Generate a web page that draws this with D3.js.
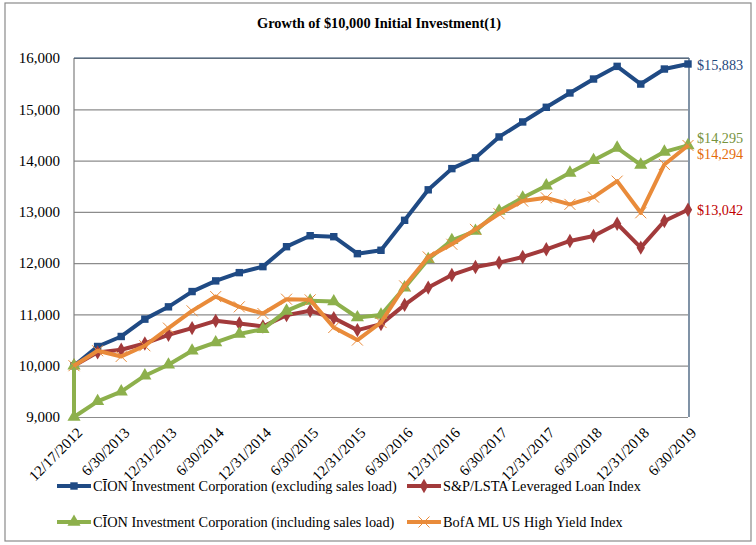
<!DOCTYPE html>
<html>
<head>
<meta charset="utf-8">
<script src="https://cdn.jsdelivr.net/npm/d3@7"></script>
<style>
  body { margin: 0; background: #fff; }
  text { font-family: "Liberation Serif", "Times New Roman", serif; }
</style>
</head>
<body>
<div id="chart"></div>
<script>
var dates = ["12/17/2012", "3/31/2013", "6/30/2013", "9/30/2013", "12/31/2013",
  "3/31/2014", "6/30/2014", "9/30/2014", "12/31/2014", "3/31/2015", "6/30/2015",
  "9/30/2015", "12/31/2015", "3/31/2016", "6/30/2016", "9/30/2016", "12/31/2016",
  "3/31/2017", "6/30/2017", "9/30/2017", "12/31/2017", "3/31/2018", "6/30/2018",
  "9/30/2018", "12/31/2018", "3/31/2019", "6/30/2019"];

var cionExcl = [10000, 10375, 10570, 10908, 11148, 11446, 11654, 11815, 11932, 12321,
  12535, 12516, 12185, 12251, 12835, 13430, 13843, 14053, 14461, 14753, 15039, 15318,
  15590, 15837, 15492, 15785, 15883];
var lstaLoan = [10000, 10260, 10311, 10434, 10603, 10733, 10875, 10823, 10765, 10986,
  11070, 10928, 10694, 10811, 11187, 11523, 11770, 11926, 12010, 12121, 12270, 12432,
  12529, 12768, 12302, 12821, 13042];
// initial $10,000 before the sales load, then the quarterly values
var cionInclStart = 10000;
var cionIncl = [9000, 9306, 9494, 9805, 10019, 10292, 10453, 10617, 10714, 11070,
  11265, 11251, 10940, 10990, 11523, 12076, 12446, 12626, 13016, 13274, 13510, 13761,
  14005, 14247, 13915, 14170, 14295];
var bofaHY = [10000, 10292, 10181, 10389, 10733, 11070, 11348, 11148, 11018, 11297,
  11284, 10745, 10500, 10843, 11556, 12121, 12368, 12658, 12963, 13210, 13274, 13146,
  13288, 13599, 12982, 13924, 14294];

var yTicks = [9000, 10000, 11000, 12000, 13000, 14000, 15000, 16000];
var seriesNames = ["CĪON Investment Corporation (excluding sales load)",
  "S&P/LSTA Leveraged Loan Index",
  "CĪON Investment Corporation (including sales load)",
  "BofA ML US High Yield Index"];
var endLabels = ["$15,883", "$13,042", "$14,295", "$14,294"];

var W = 756, H = 545;
var plot = { left: 74, right: 688, top: 58, bottom: 417 };

var svg = d3.select("#chart").append("svg")
  .attr("width", W)
  .attr("height", H);

svg.append("rect")
  .attr("x", 5).attr("y", 3)
  .attr("width", 746).attr("height", 538)
  .attr("fill", "#fff")
  .attr("stroke", "#8a8a8a")
  .attr("stroke-width", 1.2);

svg.append("text")
  .attr("x", 379)
  .attr("y", 28)
  .attr("text-anchor", "middle")
  .style("font-size", "14.4px")
  .style("font-weight", "bold")
  .text("Growth of $10,000 Initial Investment(1)");

var x = d3.scalePoint()
  .domain(dates)
  .range([plot.left, plot.right]);

var y = d3.scaleLinear()
  .domain([9000, 16000])
  .range([plot.bottom, plot.top]);

// gridlines + y labels
svg.append("g")
  .attr("class", "y-axis")
  .attr("transform", "translate(" + plot.left + ",0)")
  .call(d3.axisLeft(y)
    .tickValues(yTicks)
    .tickFormat(d3.format(","))
    .tickSize(-(plot.right - plot.left))
    .tickPadding(14))
  .call(function(g) {
    g.select(".domain").remove();
    g.selectAll(".tick line").attr("stroke", "#8c8c8c").attr("stroke-width", 1.2);
    g.selectAll(".tick text")
      .style("font-size", "15px")
      .style("fill", "#000");
  });

// x labels, every other quarter
svg.append("g")
  .attr("class", "x-axis")
  .attr("transform", "translate(0," + plot.bottom + ")")
  .call(d3.axisBottom(x)
    .tickValues(dates.filter(function(d, i) { return i % 2 === 0; }))
    .tickSize(0))
  .call(function(g) {
    g.select(".domain").remove();
    g.selectAll(".tick text")
      .style("font-size", "15px")
      .style("fill", "#000")
      .style("text-anchor", "end")
      .attr("x", 0)
      .attr("y", 0)
      .attr("dy", "0.35em")
      .attr("transform", "translate(5,13) rotate(-45)");
  });

// plot frame
svg.append("line")
  .attr("x1", plot.left).attr("x2", plot.left)
  .attr("y1", plot.top).attr("y2", plot.bottom)
  .attr("stroke", "#7f7f7f").attr("stroke-width", 1.2);
svg.append("line")
  .attr("x1", plot.right + 1).attr("x2", plot.right + 1)
  .attr("y1", plot.top).attr("y2", plot.bottom)
  .attr("stroke", "#2c4a6b").attr("stroke-width", 1.2);
svg.append("line")
  .attr("x1", plot.left).attr("x2", plot.right + 1)
  .attr("y1", plot.top).attr("y2", plot.top)
  .attr("stroke", "#2c4a6b").attr("stroke-width", 1.2);

var toPoints = function(vals) {
  return vals.map(function(v, i) { return { date: dates[i], value: v }; });
};

var series = [
  { name: seriesNames[0], color: "#1f4a84", marker: "square", pts: toPoints(cionExcl) },
  { name: seriesNames[1], color: "#a23a3b", marker: "diamond", pts: toPoints(lstaLoan) },
  { name: seriesNames[2], color: "#8db04c", marker: "triangle",
    pts: [{ date: dates[0], value: cionInclStart }].concat(toPoints(cionIncl)) },
  { name: seriesNames[3], color: "#e98b3a", marker: "x", pts: toPoints(bofaHY) }
];
var labelColors = ["#1f497d", "#c00000", "#77933c", "#e46c0a"];
var labelShift = [1, 0, -7, 9];

var line = d3.line()
  .x(function(d) { return x(d.date); })
  .y(function(d) { return y(d.value); });

var symbolFor = function(m) {
  if (m === "square") return d3.symbol().type(d3.symbolSquare).size(55);
  if (m === "diamond") return d3.symbol().type(d3.symbolDiamond).size(60);
  if (m === "triangle") return d3.symbol().type(d3.symbolTriangle).size(75);
  return d3.symbol().type(d3.symbolCross).size(90);
};

var drawMarker = function(sel, s) {
  var m = sel.append("path")
    .attr("d", symbolFor(s.marker)());
  if (s.marker === "x") {
    m.attr("fill", "none").attr("stroke", s.color).attr("stroke-width", 1)
      .attr("d", "M-5.5,-5.5L5.5,5.5M-5.5,5.5L5.5,-5.5");
  } else {
    m.attr("fill", s.color);
  }
  return m;
};

series.forEach(function(s, k) {
  var g = svg.append("g").attr("class", "series");
  g.append("path")
    .attr("d", line(s.pts))
    .attr("fill", "none")
    .attr("stroke", s.color)
    .attr("stroke-width", 4)
    .attr("stroke-linejoin", "round");

  g.selectAll(".pt")
    .data(s.pts)
    .enter().append("g")
    .attr("class", "pt")
    .attr("transform", function(d) { return "translate(" + x(d.date) + "," + y(d.value) + ")"; })
    .each(function() { drawMarker(d3.select(this), s); });

  var last = s.pts[s.pts.length - 1];
  svg.append("text")
    .attr("x", x(last.date) + 9)
    .attr("y", y(last.value) + labelShift[k])
    .attr("dy", "0.35em")
    .style("font-size", "14.2px")
    .style("fill", labelColors[k])
    .text(endLabels[k]);
});

// legend
var legendPos = [[57, 486], [407, 486], [57, 522], [407, 522]];
series.forEach(function(s, k) {
  var lg = svg.append("g")
    .attr("transform", "translate(" + legendPos[k][0] + "," + legendPos[k][1] + ")");
  lg.append("line")
    .attr("x1", 0).attr("x2", 34)
    .attr("stroke", s.color)
    .attr("stroke-width", 4);
  drawMarker(lg.append("g").attr("transform", "translate(17,0)"), s);
  lg.append("text")
    .attr("x", 36)
    .attr("dy", "0.35em")
    .style("font-size", "14.3px")
    .text(s.name);
});
</script>
</body>
</html>
